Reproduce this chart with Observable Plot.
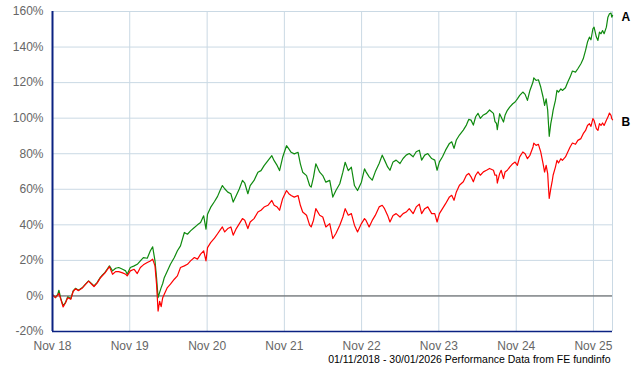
<!DOCTYPE html>
<html><head><meta charset="utf-8">
<script src="https://cdn.jsdelivr.net/npm/d3@7"></script>
<script src="https://cdn.jsdelivr.net/npm/@observablehq/plot@0.6"></script>
<style>body{margin:0;background:#fff}</style>
</head><body><div id="chart"></div>
<script>
// decimal-year time stamps
const t = [
2018.84,2018.87,2018.90,2018.915,2018.94,2018.97,2019.00,2019.03,2019.07,2019.10,2019.13,2019.17,2019.22,2019.26,2019.30,2019.34,2019.37,2019.41,2019.45,2019.48,2019.51,2019.54,2019.57,2019.61,2019.65,2019.69,2019.74,2019.78,2019.80,2019.84,2019.89,2019.93,2019.97,2020.01,2020.06,2020.10,2020.13,2020.16,2020.18,2020.20,2020.22,2020.24,2020.26,2020.28,2020.32,2020.36,2020.41,2020.45,2020.49,2020.54,2020.58,2020.62,2020.67,2020.71,2020.75,2020.79,2020.82,2020.84,2020.88,2020.93,
2020.97,2021.00,2021.03,2021.06,2021.10,2021.14,2021.17,2021.21,2021.25,2021.29,2021.32,2021.36,2021.39,2021.44,2021.49,2021.53,2021.57,2021.62,2021.67,2021.70,2021.74,2021.77,2021.81,2021.86,2021.89,2021.92,2021.96,2022.01,2022.04,2022.07,2022.12,2022.16,2022.18,2022.21,2022.24,2022.29,2022.33,2022.37,2022.42,2022.46,2022.50,2022.55,2022.59,2022.62,2022.66,2022.70,2022.74,2022.78,2022.83,2022.87,
2022.89,2022.93,2022.97,2023.01,2023.06,2023.10,2023.13,2023.17,2023.20,2023.24,2023.28,2023.33,2023.37,2023.41,2023.45,2023.50,2023.54,2023.58,2023.61,2023.65,2023.69,2023.74,2023.78,2023.81,2023.84,2023.88,2023.92,2023.97,2024.00,2024.03,2024.06,2024.10,2024.15,2024.19,2024.22,2024.25,2024.28,2024.31,2024.34,2024.37,2024.41,2024.45,2024.49,2024.54,2024.56,
2024.58,2024.59,2024.62,2024.64,2024.67,2024.69,2024.72,2024.75,2024.79,2024.82,2024.85,2024.88,2024.92,2024.95,2024.98,2025.01,2025.05,2025.06,2025.09,2025.12,2025.15,2025.18,2025.20,2025.22,2025.24,2025.25,2025.26,2025.28,2025.30,2025.31,2025.34,2025.36,2025.38,2025.41,2025.43,2025.47,2025.50,2025.53,2025.56,2025.60,2025.63,2025.67,2025.70,2025.73,2025.755,2025.78,2025.80,2025.825,2025.84,2025.87,2025.89,2025.91,2025.93,2025.95,2025.97,2026.00,2026.02,2026.04,2026.06,2026.07,2026.08
];
// series A (green), cumulative % performance
const seriesA = [
0.5,-0.9,0.9,3.2,-1.5,-5.5,-3.8,-0.5,-1.5,2.8,4.3,3.2,4.7,6.6,8.5,6.9,5.6,7.5,10.3,11.8,13.1,15.0,16.9,14.1,15.6,16.0,15.0,14.1,12.2,16.0,16.9,17.8,19.7,21.6,21.2,25.4,27.6,19.7,10.3,-0.9,2.0,4.7,7.0,10.3,14.1,17.8,21.6,25.4,28.2,35.7,34.7,36.6,38.5,40.0,41.3,45.1,37.6,46.0,49.8,53.1,
56,59.3,62.1,60.3,58.4,57.5,52.8,56.5,60.3,65,63.4,57.5,62.1,65,69.6,70.5,73.3,76.1,78.9,76.1,73.3,70.5,78,84.5,82.7,80.8,79.9,80.8,74.3,69.6,67.7,62.1,61.2,66.8,74.3,69.6,67.7,64,65,55.6,59.3,63.1,69.6,75.2,70.5,72.4,62.1,59.3,64,71.5,
69.8,67,65.1,69.8,74.5,79.2,76.4,72.6,70.7,75.4,76.4,74.5,77.3,79.2,80.1,78.3,81.1,82,76.4,79.2,80.1,77.3,76.4,70.7,75.4,78.3,82,85.8,86.7,83,87.7,90.5,93.3,96.1,99.3,98.9,96.1,100.8,102.7,99.9,101.8,102.7,104.6,102.7,98,
97,93.5,102.5,100.6,97.8,101.6,104.4,106.2,108.1,109.1,110.9,112.8,114.7,113.4,110,115.6,120.3,122.7,121.2,121.6,117.5,111.9,107.2,110.9,104.4,96.9,89.8,96.9,101.6,104.4,110,115.6,114.7,116.5,115.6,117.1,120.3,123.1,126.5,125.9,127.8,130.6,133.4,138.1,142.8,145.6,144.1,150.3,151.2,145.6,143.7,148.4,147.5,149.3,147.5,151.2,156.8,158.7,159.1,156.8,157.8
];
// series B (red), cumulative % performance
const seriesB = [
0.5,-0.9,0.5,1.5,-1.9,-6.2,-4.0,-1.0,-1.9,2.5,4.0,3.0,4.5,6.5,8.3,6.6,5.3,7.2,10.0,11.5,12.8,14.7,16.5,12.2,13.7,13.7,13.0,12.2,11.3,14.1,15.0,12.6,16.0,17.5,18.8,19.7,20.7,16.9,6.6,-8.5,-3.0,-6.0,-1.0,0.9,4.7,6.6,9.4,11.3,16.0,16.9,17.8,19.7,21.6,20.7,23.5,25.4,19.7,27.2,30.0,32.5,
35,37,38.8,36,37.9,38.8,34.2,37.9,40.7,43.5,42.6,37.9,41.6,43.5,47.2,48.2,50,51,53.7,51,50,48.2,54.7,59.3,57.5,56.5,55.6,56.5,51,47.2,45.4,39.8,38.8,42.6,49.1,45.4,44.4,38.8,40.7,32.3,35.1,39.8,44.4,49.1,45.4,46.3,39.8,36,40.7,43.5,
42.5,38.8,42.5,45.3,50.1,51,49.1,45.3,41.6,45.3,46.3,44.4,46.3,47.2,49.1,46.3,50.1,51.6,46.3,49.1,50.1,46.3,46.3,41.6,46.3,49.1,51.9,55.7,56.6,53.8,58.5,62.3,64.2,67.9,68.9,67,64.2,67.9,69.8,67.9,69.8,70.7,71.7,70.7,67.9,
68,63.5,68.8,70.7,66,69.7,70.7,72.5,74.4,75.3,73.5,78.2,81,80,77.2,79.1,83.8,86,84.7,85.3,81,74.4,69.7,73.5,68.8,61.3,54.8,60.4,65,67.9,72.5,76.3,74.8,77.2,76.3,78.2,81,83.8,86,85.3,87.5,88.5,91.3,93.1,95.9,96.9,95.4,99.7,98.8,94.1,93.1,96.9,95.9,97.3,95.9,98.8,100.6,102.9,101.6,99.7,99.1
];
const seriesNames = ["A", "B"];
const seriesColors = ["#0f8a0f", "#ff0000"];
const xTickYears = [2018, 2019, 2020, 2021, 2022, 2023, 2024, 2025];
const xTickMonthLabel = "Nov";
const yTicks = [-20, 0, 20, 40, 60, 80, 100, 120, 140, 160];
const startDate = "2018-11-01";
const endDate = "2026-01-30";
const caption = "01/11/2018 - 30/01/2026 Performance Data from FE fundinfo";

function toDate(dec) {
  const yr = Math.floor(dec);
  return new Date(Date.UTC(yr, 0, 1) + (dec - yr) * 365.25 * 86400000);
}
const rows = [];
const allSeries = [seriesA, seriesB];
allSeries.forEach((vals, s) => {
  vals.forEach((v, i) => rows.push({date: toDate(t[i]), value: v, series: seriesNames[s]}));
});
const lastPoints = allSeries.map((vals, s) => ({date: toDate(t[t.length - 1]), value: vals[vals.length - 1], series: seriesNames[s]}));
const xTicks = xTickYears.map(y => new Date(Date.UTC(y, 10, 1)));
const start = new Date(startDate), end = new Date(endDate);
const gridColor = "#cad9e4";
const axisColor = "#0b2282";

const chart = Plot.plot({
  width: 640, height: 370,
  marginLeft: 52, marginRight: 28, marginTop: 11, marginBottom: 39,
  style: {fontFamily: "'Liberation Sans', Arial, sans-serif", fontSize: "12px", color: "#666", background: "#fff", overflow: "visible"},
  x: {type: "utc", domain: [start, end]},
  y: {domain: [-20, 160]},
  color: {domain: seriesNames, range: seriesColors},
  marks: [
    Plot.gridX(xTicks, {stroke: gridColor, strokeOpacity: 1}),
    Plot.gridY(yTicks, {stroke: gridColor, strokeOpacity: 1}),
    Plot.ruleX([end], {stroke: gridColor}),
    Plot.ruleY([0], {stroke: "#555"}),
    Plot.line(rows, {x: "date", y: "value", z: "series", stroke: "series", strokeWidth: 1.2}),
    Plot.ruleX([start], {stroke: axisColor, strokeWidth: 2}),
    Plot.ruleY([-20], {stroke: axisColor, strokeWidth: 1.5}),
    Plot.axisX(xTicks, {tickSize: 0, tickPadding: 10, tickFormat: d => xTickMonthLabel + " " + String(d.getUTCFullYear()).slice(2), label: null}),
    Plot.axisY(yTicks, {tickSize: 0, tickPadding: 9, tickFormat: d => d + "%", label: null}),
    Plot.text(lastPoints, {x: "date", y: "value", text: "series", dx: 9, dy: 2, textAnchor: "start", fill: "black", fontWeight: "bold", fontSize: 12}),
    Plot.text([caption], {text: d => d, frameAnchor: "bottom-right", dx: -2, dy: 31.5, textAnchor: "end", fill: "black", fontSize: 10.5})
  ]
});
document.getElementById("chart").appendChild(chart);
</script>
</body></html>
